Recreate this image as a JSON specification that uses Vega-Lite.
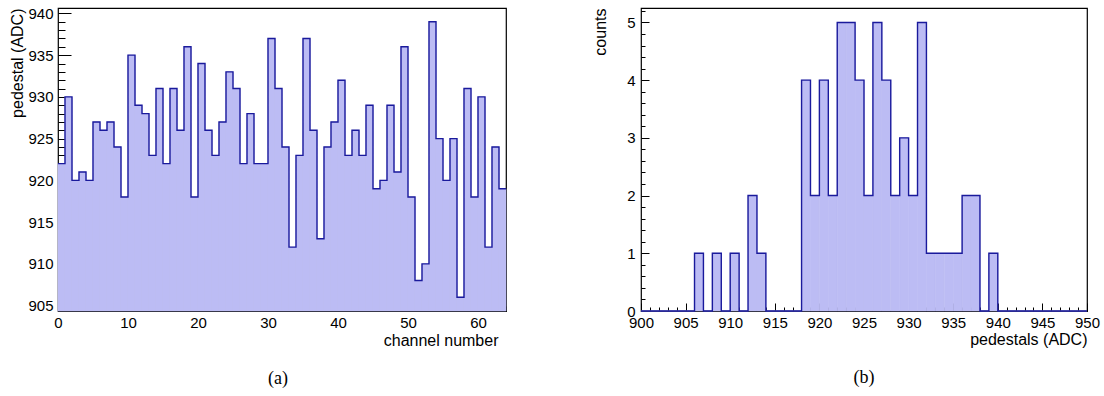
{
  "$schema": "https://vega.github.io/schema/vega-lite/v6.json",
  "padding": {"left": 8, "top": 5, "right": 5, "bottom": 0},
  "background": "white",
  "config": {
    "view": {"stroke": "black", "strokeWidth": 1.2},
    "axis": {"grid": false, "domain": false, "zindex": 1, "labelFont": "Liberation Sans", "labelFontSize": 15, "labelColor": "black", "labelFlush": false, "labelOverlap": false, "titleFont": "Liberation Sans", "titleFontSize": 16, "titleFontWeight": "normal", "titleColor": "black", "tickColor": "black", "tickWidth": 1},
    "title": {"font": "Liberation Serif", "fontSize": 18, "fontWeight": "normal", "color": "black"}
  },
  "datasets": {
    "channels": [
      {"ch": 0, "ch_end": 1, "ped": 922}, {"ch": 1, "ch_end": 2, "ped": 930}, {"ch": 2, "ch_end": 3, "ped": 920}, {"ch": 3, "ch_end": 4, "ped": 921},
      {"ch": 4, "ch_end": 5, "ped": 920}, {"ch": 5, "ch_end": 6, "ped": 927}, {"ch": 6, "ch_end": 7, "ped": 926}, {"ch": 7, "ch_end": 8, "ped": 927},
      {"ch": 8, "ch_end": 9, "ped": 924}, {"ch": 9, "ch_end": 10, "ped": 918}, {"ch": 10, "ch_end": 11, "ped": 935}, {"ch": 11, "ch_end": 12, "ped": 929},
      {"ch": 12, "ch_end": 13, "ped": 928}, {"ch": 13, "ch_end": 14, "ped": 923}, {"ch": 14, "ch_end": 15, "ped": 931}, {"ch": 15, "ch_end": 16, "ped": 922},
      {"ch": 16, "ch_end": 17, "ped": 931}, {"ch": 17, "ch_end": 18, "ped": 926}, {"ch": 18, "ch_end": 19, "ped": 936}, {"ch": 19, "ch_end": 20, "ped": 918},
      {"ch": 20, "ch_end": 21, "ped": 934}, {"ch": 21, "ch_end": 22, "ped": 926}, {"ch": 22, "ch_end": 23, "ped": 923}, {"ch": 23, "ch_end": 24, "ped": 927},
      {"ch": 24, "ch_end": 25, "ped": 933}, {"ch": 25, "ch_end": 26, "ped": 931}, {"ch": 26, "ch_end": 27, "ped": 922}, {"ch": 27, "ch_end": 28, "ped": 928},
      {"ch": 28, "ch_end": 29, "ped": 922}, {"ch": 29, "ch_end": 30, "ped": 922}, {"ch": 30, "ch_end": 31, "ped": 937}, {"ch": 31, "ch_end": 32, "ped": 931},
      {"ch": 32, "ch_end": 33, "ped": 924}, {"ch": 33, "ch_end": 34, "ped": 912}, {"ch": 34, "ch_end": 35, "ped": 923}, {"ch": 35, "ch_end": 36, "ped": 937},
      {"ch": 36, "ch_end": 37, "ped": 926}, {"ch": 37, "ch_end": 38, "ped": 913}, {"ch": 38, "ch_end": 39, "ped": 924}, {"ch": 39, "ch_end": 40, "ped": 927},
      {"ch": 40, "ch_end": 41, "ped": 932}, {"ch": 41, "ch_end": 42, "ped": 923}, {"ch": 42, "ch_end": 43, "ped": 926}, {"ch": 43, "ch_end": 44, "ped": 923},
      {"ch": 44, "ch_end": 45, "ped": 929}, {"ch": 45, "ch_end": 46, "ped": 919}, {"ch": 46, "ch_end": 47, "ped": 920}, {"ch": 47, "ch_end": 48, "ped": 929},
      {"ch": 48, "ch_end": 49, "ped": 921}, {"ch": 49, "ch_end": 50, "ped": 936}, {"ch": 50, "ch_end": 51, "ped": 918}, {"ch": 51, "ch_end": 52, "ped": 908},
      {"ch": 52, "ch_end": 53, "ped": 910}, {"ch": 53, "ch_end": 54, "ped": 939}, {"ch": 54, "ch_end": 55, "ped": 925}, {"ch": 55, "ch_end": 56, "ped": 920},
      {"ch": 56, "ch_end": 57, "ped": 925}, {"ch": 57, "ch_end": 58, "ped": 906}, {"ch": 58, "ch_end": 59, "ped": 931}, {"ch": 59, "ch_end": 60, "ped": 918},
      {"ch": 60, "ch_end": 61, "ped": 930}, {"ch": 61, "ch_end": 62, "ped": 912}, {"ch": 62, "ch_end": 63, "ped": 924}, {"ch": 63, "ch_end": 64, "ped": 919}
    ],
    "pedhist": [
      {"adc": 900, "adc_end": 901, "n": 0}, {"adc": 901, "adc_end": 902, "n": 0}, {"adc": 902, "adc_end": 903, "n": 0}, {"adc": 903, "adc_end": 904, "n": 0},
      {"adc": 904, "adc_end": 905, "n": 0}, {"adc": 905, "adc_end": 906, "n": 0}, {"adc": 906, "adc_end": 907, "n": 1}, {"adc": 907, "adc_end": 908, "n": 0},
      {"adc": 908, "adc_end": 909, "n": 1}, {"adc": 909, "adc_end": 910, "n": 0}, {"adc": 910, "adc_end": 911, "n": 1}, {"adc": 911, "adc_end": 912, "n": 0},
      {"adc": 912, "adc_end": 913, "n": 2}, {"adc": 913, "adc_end": 914, "n": 1}, {"adc": 914, "adc_end": 915, "n": 0}, {"adc": 915, "adc_end": 916, "n": 0},
      {"adc": 916, "adc_end": 917, "n": 0}, {"adc": 917, "adc_end": 918, "n": 0}, {"adc": 918, "adc_end": 919, "n": 4}, {"adc": 919, "adc_end": 920, "n": 2},
      {"adc": 920, "adc_end": 921, "n": 4}, {"adc": 921, "adc_end": 922, "n": 2}, {"adc": 922, "adc_end": 923, "n": 5}, {"adc": 923, "adc_end": 924, "n": 5},
      {"adc": 924, "adc_end": 925, "n": 4}, {"adc": 925, "adc_end": 926, "n": 2}, {"adc": 926, "adc_end": 927, "n": 5}, {"adc": 927, "adc_end": 928, "n": 4},
      {"adc": 928, "adc_end": 929, "n": 2}, {"adc": 929, "adc_end": 930, "n": 3}, {"adc": 930, "adc_end": 931, "n": 2}, {"adc": 931, "adc_end": 932, "n": 5},
      {"adc": 932, "adc_end": 933, "n": 1}, {"adc": 933, "adc_end": 934, "n": 1}, {"adc": 934, "adc_end": 935, "n": 1}, {"adc": 935, "adc_end": 936, "n": 1},
      {"adc": 936, "adc_end": 937, "n": 2}, {"adc": 937, "adc_end": 938, "n": 2}, {"adc": 938, "adc_end": 939, "n": 0}, {"adc": 939, "adc_end": 940, "n": 1},
      {"adc": 940, "adc_end": 941, "n": 0}, {"adc": 941, "adc_end": 942, "n": 0}, {"adc": 942, "adc_end": 943, "n": 0}, {"adc": 943, "adc_end": 944, "n": 0},
      {"adc": 944, "adc_end": 945, "n": 0}, {"adc": 945, "adc_end": 946, "n": 0}, {"adc": 946, "adc_end": 947, "n": 0}, {"adc": 947, "adc_end": 948, "n": 0},
      {"adc": 948, "adc_end": 949, "n": 0}, {"adc": 949, "adc_end": 950, "n": 0}
    ]
  },
  "spacing": 81,
  "hconcat": [
    {
      "title": {"text": "(a)", "orient": "bottom", "anchor": "middle", "offset": 22, "dx": -4},
      "width": 448,
      "height": 303,
      "data": {"name": "channels"},
      "resolve": {"axis": {"x": "independent", "y": "independent"}},
      "layer": [
        {
          "mark": {"type": "rect", "color": "#bcbcf4", "stroke": "#bcbcf4", "strokeWidth": 0.6},
          "encoding": {
            "x": {"field": "ch", "type": "quantitative", "scale": {"domain": [0, 64], "nice": false, "zero": false},
              "axis": {"orient": "bottom", "values": [0, 10, 20, 30, 40, 50, 60], "tickSize": -8, "labelPadding": 12, "labelBaseline": "top",
                "title": "channel number", "titleX": 440, "titleY": 34, "titleAlign": "right", "titleBaseline": "alphabetic"}},
            "x2": {"field": "ch_end"},
            "y": {"field": "ped", "type": "quantitative", "scale": {"domain": [904.35, 940.65], "nice": false, "zero": false},
              "axis": {"orient": "left", "values": [905, 910, 915, 920, 925, 930, 935, 940], "tickSize": -13, "labelPadding": 18,
                "title": "pedestal (ADC)", "titleX": -33, "titleY": 0, "titleAngle": -90, "titleAlign": "right", "titleBaseline": "bottom"}},
            "y2": {"datum": 904.35}
          }
        },
        {
          "transform": [{"fold": ["ch", "ch_end"], "as": ["edge_kind", "edge"]}],
          "mark": {"type": "line", "color": "#1a1a9c", "strokeWidth": 1.4},
          "encoding": {
            "x": {"field": "edge", "type": "quantitative",
              "axis": {"orient": "bottom", "values": [2, 4, 6, 8, 12, 14, 16, 18, 22, 24, 26, 28, 32, 34, 36, 38, 42, 44, 46, 48, 52, 54, 56, 58, 62, 64], "tickSize": -5, "labels": false, "title": null}},
            "y": {"field": "ped", "type": "quantitative",
              "axis": {"orient": "left", "values": [906, 907, 908, 909, 911, 912, 913, 914, 916, 917, 918, 919, 921, 922, 923, 924, 926, 927, 928, 929, 931, 932, 933, 934, 936, 937, 938, 939], "tickSize": -7, "labels": false, "title": null}},
            "order": [{"field": "edge"}, {"field": "ch"}]
          }
        }
      ]
    },
    {
      "title": {"text": "(b)", "orient": "bottom", "anchor": "middle", "offset": 22},
      "width": 446,
      "height": 303,
      "data": {"name": "pedhist"},
      "resolve": {"axis": {"x": "independent", "y": "independent"}},
      "layer": [
        {
          "mark": {"type": "rect", "color": "#bcbcf4", "stroke": "#bcbcf4", "strokeWidth": 0.6},
          "encoding": {
            "x": {"field": "adc", "type": "quantitative", "scale": {"domain": [900, 950], "nice": false, "zero": false},
              "axis": {"orient": "bottom", "values": [900, 905, 910, 915, 920, 925, 930, 935, 940, 945, 950], "tickSize": -8, "labelPadding": 12, "labelBaseline": "top",
                "title": "pedestals (ADC)", "titleX": 446, "titleY": 33, "titleAlign": "right", "titleBaseline": "alphabetic"}},
            "x2": {"field": "adc_end"},
            "y": {"field": "n", "type": "quantitative", "scale": {"domain": [0, 5.25], "nice": false},
              "axis": {"orient": "left", "values": [0, 1, 2, 3, 4, 5], "tickSize": -8, "labelPadding": 14,
                "title": "counts", "titleX": -36, "titleY": 0, "titleAngle": -90, "titleAlign": "right", "titleBaseline": "alphabetic"}},
            "y2": {"datum": 0}
          }
        },
        {
          "transform": [{"fold": ["adc", "adc_end"], "as": ["edge_kind", "edge"]}],
          "mark": {"type": "line", "color": "#1a1a9c", "strokeWidth": 1.4},
          "encoding": {
            "x": {"field": "edge", "type": "quantitative",
              "axis": {"orient": "bottom", "values": [901, 902, 903, 904, 906, 907, 908, 909, 911, 912, 913, 914, 916, 917, 918, 919, 921, 922, 923, 924, 926, 927, 928, 929, 931, 932, 933, 934, 936, 937, 938, 939, 941, 942, 943, 944, 946, 947, 948, 949], "tickSize": -4, "labels": false, "title": null}},
            "y": {"field": "n", "type": "quantitative",
              "axis": {"orient": "left", "values": [0.2, 0.4, 0.6, 0.8, 1.2, 1.4, 1.6, 1.8, 2.2, 2.4, 2.6, 2.8, 3.2, 3.4, 3.6, 3.8, 4.2, 4.4, 4.6, 4.8, 5.2], "tickSize": -4, "labels": false, "title": null}},
            "order": [{"field": "edge"}, {"field": "adc"}]
          }
        }
      ]
    }
  ]
}
